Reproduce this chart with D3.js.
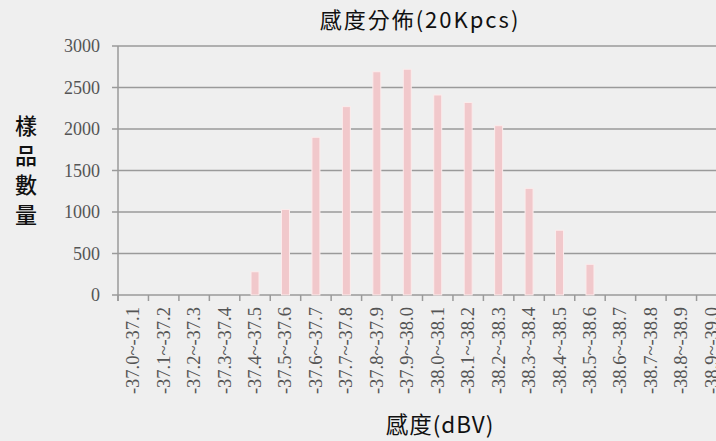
<!DOCTYPE html>
<html>
<head>
<meta charset="utf-8">
<script src="https://cdn.jsdelivr.net/npm/d3@7"></script>
<style>
  body { margin: 0; background: #efefef; }
  svg { display: block; }
</style>
</head>
<body>
<svg id="chart" width="716" height="441"></svg>
<script>
var categories = [
    "-37.0~-37.1", "-37.1~-37.2", "-37.2~-37.3", "-37.3~-37.4", "-37.4~-37.5",
    "-37.5~-37.6", "-37.6~-37.7", "-37.7~-37.8", "-37.8~-37.9", "-37.9~-38.0",
    "-38.0~-38.1", "-38.1~-38.2", "-38.2~-38.3", "-38.3~-38.4", "-38.4~-38.5",
    "-38.5~-38.6", "-38.6~-38.7", "-38.7~-38.8", "-38.8~-38.9", "-38.9~-39.0"
];
var counts = [0, 0, 0, 0, 280, 1030, 1900, 2270, 2690, 2720, 2410, 2320, 2040, 1285, 780, 370, 0, 0, 0, 0];
var yTicks = [0, 500, 1000, 1500, 2000, 2500, 3000];

var svg = d3.select("#chart");
var plotLeft = 118, plotRight = 727, plotTop = 46, plotBottom = 295;
var serif = "'Liberation Serif', 'DejaVu Serif', serif";
var cjk = "'Noto Sans CJK TC', 'Noto Sans', sans-serif";
var axisColor = "#9a9a9a";

var xScale = d3.scaleBand()
    .domain(categories)
    .range([plotLeft, plotRight]);

var yScale = d3.scaleLinear()
    .domain([0, 3000])
    .range([plotBottom, plotTop]);

// gridlines
svg.append("g")
    .selectAll("line")
    .data(yTicks)
    .enter()
    .append("line")
    .attr("x1", plotLeft - 6)
    .attr("x2", 716)
    .attr("y1", d => yScale(d))
    .attr("y2", d => yScale(d))
    .attr("stroke", axisColor)
    .attr("stroke-width", 1.5);

// y axis line
svg.append("line")
    .attr("x1", plotLeft).attr("x2", plotLeft)
    .attr("y1", plotTop).attr("y2", plotBottom + 6)
    .attr("stroke", axisColor).attr("stroke-width", 1.5);

// y tick labels
svg.append("g")
    .selectAll("text")
    .data(yTicks)
    .enter()
    .append("text")
    .attr("x", 100)
    .attr("y", d => yScale(d) + 6)
    .attr("text-anchor", "end")
    .style("font-family", serif)
    .style("font-size", "18px")
    .style("fill", "#555")
    .text(d => d);

// x tick marks
svg.append("g")
    .selectAll("line")
    .data(categories)
    .enter()
    .append("line")
    .attr("x1", d => xScale(d))
    .attr("x2", d => xScale(d))
    .attr("y1", plotBottom)
    .attr("y2", plotBottom + 6)
    .attr("stroke", axisColor).attr("stroke-width", 1.5);

// bars (empty categories draw nothing)
var barW = 8;
svg.append("g")
    .selectAll("rect")
    .data(categories.map((c, i) => ({ c: c, v: counts[i] })).filter(d => d.v > 0))
    .enter()
    .append("rect")
    .attr("x", d => xScale(d.c) + xScale.bandwidth() / 2 - barW / 2)
    .attr("y", d => yScale(d.v))
    .attr("width", barW)
    .attr("height", d => plotBottom - yScale(d.v))
    .attr("fill", "#f1c8cb")
    .attr("stroke", "#fbecec")
    .attr("stroke-width", 1);

// x tick labels, rotated
svg.append("g")
    .selectAll("text")
    .data(categories)
    .enter()
    .append("text")
    .attr("transform", d => `translate(${xScale(d) + xScale.bandwidth() / 2 + 6},307) rotate(-90)`)
    .attr("text-anchor", "end")
    .style("font-family", serif)
    .style("font-size", "18.5px")
    .style("fill", "#555")
    .text(d => d);

// title
svg.append("text")
    .attr("x", 420)
    .attr("y", 28)
    .attr("text-anchor", "middle")
    .style("font-family", cjk)
    .style("font-size", "22px")
    .style("letter-spacing", "2px")
    .style("fill", "#111")
    .text("感度分佈(20Kpcs)");

// y label, vertical characters
svg.append("g")
    .selectAll("text")
    .data(["樣", "品", "數", "量"])
    .enter()
    .append("text")
    .attr("x", 26)
    .attr("y", (d, i) => 134 + i * 29.5)
    .attr("text-anchor", "middle")
    .style("font-family", cjk)
    .style("font-size", "22px")
    .style("font-weight", 500)
    .style("fill", "#111")
    .text(d => d);

// x label
svg.append("text")
    .attr("x", 440)
    .attr("y", 433)
    .attr("text-anchor", "middle")
    .style("font-family", cjk)
    .style("font-size", "22.5px")
    .style("letter-spacing", "1px")
    .style("fill", "#111")
    .text("感度(dBV)");
</script>
</body>
</html>
